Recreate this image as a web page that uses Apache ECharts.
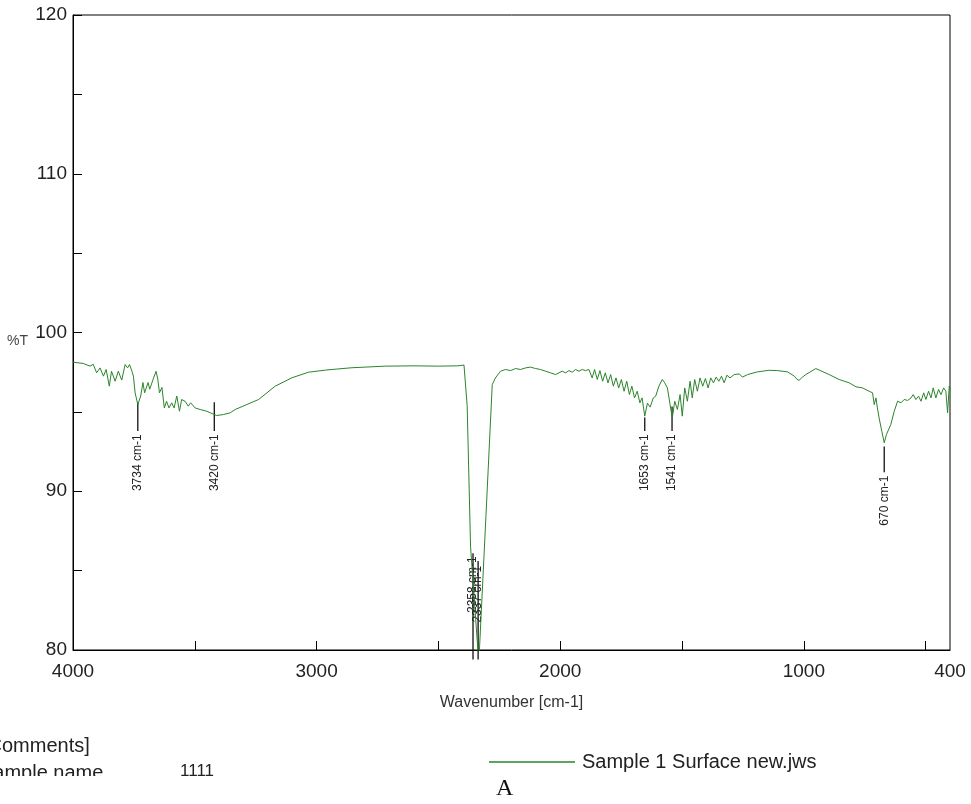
<!DOCTYPE html>
<html>
<head>
<meta charset="utf-8">
<script src="https://cdn.jsdelivr.net/npm/echarts@6/dist/echarts.min.js"></script>
<style>
html, body { margin: 0; padding: 0; background: #fff; }
#main { width: 971px; height: 804px; }
</style>
</head>
<body>
<div id="main"></div>
<script>
// wavenumber [cm-1] and transmittance [%T]
var wn = [4000, 3958, 3930, 3917, 3903, 3889, 3875, 3864, 3851, 3842, 3827, 3814, 3800, 3786, 3776, 3768,
  3758, 3752, 3745, 3734, 3722, 3713, 3706, 3692, 3685, 3671, 3659, 3652, 3645, 3635, 3625, 3616,
  3606, 3595, 3585, 3574, 3563, 3554, 3540, 3527, 3517, 3499, 3478, 3451, 3430, 3410, 3383, 3355,
  3334, 3238, 3170, 3101, 3033, 2964, 2915, 2855, 2718, 2600, 2500, 2420, 2395, 2388, 2382, 2368,
  2350, 2338, 2335, 2331, 2305, 2279, 2266, 2245, 2225, 2204, 2183, 2163, 2142, 2122, 2101, 2081,
  2060, 2040, 2019, 2005, 1992, 1978, 1964, 1951, 1937, 1923, 1910, 1896, 1882, 1869, 1859, 1848,
  1837, 1826, 1815, 1804, 1793, 1782, 1771, 1760, 1749, 1738, 1727, 1716, 1706, 1695, 1684, 1673,
  1664, 1653, 1642, 1631, 1618, 1608, 1595, 1581, 1571, 1560, 1549, 1540, 1530, 1519, 1508, 1499,
  1489, 1478, 1467, 1458, 1448, 1437, 1426, 1415, 1404, 1393, 1382, 1371, 1360, 1349, 1338, 1327,
  1316, 1303, 1286, 1265, 1252, 1231, 1190, 1142, 1108, 1067, 1039, 1030, 1020, 1005, 992, 970,
  951, 945, 896, 855, 814, 786, 759, 732, 718, 711, 704, 698, 691, 680, 670, 661,
  653, 643, 629, 615, 601, 588, 574, 560, 551, 540, 529, 519, 508, 499, 488, 478,
  469, 458, 447, 437, 426, 417, 410, 403, 400];
var tr = [98.13, 98.05, 97.88, 98.0, 97.46, 97.77, 97.25, 97.67, 96.62, 97.56, 96.93, 97.56, 97.0, 97.98, 97.77, 97.98,
  97.56, 97.25, 96.2, 95.46, 96.0, 96.85, 96.2, 96.85, 96.43, 97.06, 97.56, 97.06, 96.2, 96.54, 95.25, 95.67,
  95.25, 95.57, 95.25, 96.0, 95.04, 95.78, 95.67, 95.36, 95.57, 95.25, 95.15, 95.04, 94.9, 94.77, 94.83, 94.94,
  95.15, 95.78, 96.62, 97.15, 97.5, 97.63, 97.7, 97.78, 97.88, 97.9, 97.88, 97.9, 97.95, 97.86, 95.4, 86.5,
  82.6, 80.0, 79.4, 80.2, 88.4, 96.72, 97.14, 97.56, 97.67, 97.6, 97.73, 97.67, 97.77, 97.82, 97.73, 97.67,
  97.56, 97.46, 97.35, 97.46, 97.56, 97.46, 97.6, 97.5, 97.67, 97.56, 97.67, 97.6, 97.67, 97.14, 97.67, 97.04,
  97.6, 96.93, 97.46, 96.83, 97.35, 96.62, 97.14, 96.51, 97.04, 96.3, 96.93, 96.09, 96.62, 95.88, 96.3, 95.57,
  95.88, 94.73, 95.55, 95.3, 95.88, 95.99, 96.62, 97.04, 96.83, 96.51, 95.46, 94.62, 95.67, 95.15, 96.09, 94.73,
  96.51, 95.67, 96.93, 95.88, 97.04, 96.3, 97.14, 96.62, 97.1, 96.51, 97.14, 96.83, 97.19, 96.93, 97.25, 96.83,
  97.31, 97.14, 97.35, 97.39, 97.19, 97.35, 97.52, 97.62, 97.6, 97.52, 97.25, 97.08, 96.98, 97.2, 97.35, 97.55,
  97.73, 97.67, 97.35, 97.04, 96.83, 96.58, 96.51, 96.3, 96.2, 95.46, 95.88, 95.25, 94.62, 93.78, 93.05, 93.57,
  93.47, 94.2, 95.04, 95.67, 95.57, 95.78, 95.72, 95.88, 96.09, 95.78, 95.99, 95.67, 96.2, 95.78, 96.3, 95.88,
  96.51, 95.88, 96.41, 96.09, 96.51, 96.3, 94.94, 96.62, 96.41];

// peak picks: position, marker line top/bottom and where the label's end sits
var peakWn = [3734, 3420, 2358, 2337, 1653, 1541, 670];
var peakTop = [95.6, 95.6, 86.1, 85.6, 94.65, 95.34, 92.82];
var peakBottom = [93.8, 93.8, 79.4, 79.4, 93.8, 93.8, 91.2];
var peakLabelAt = [93.58, 93.58, 85.9, 85.3, 93.58, 93.58, 90.98];
var peakLabels = ['3734 cm-1', '3420 cm-1', '2358 cm-1', '2337 cm-1', '1653 cm-1', '1541 cm-1', '670 cm-1'];

var xTickValues = [500, 1000, 1500, 2000, 2500, 3000, 3500];
var xLabelValues = [4000, 3000, 2000, 1000, 400];

var spectrum = wn.map(function (w, i) { return [w, tr[i]]; });
var peaks = peakWn.map(function (w, i) { return [w, peakTop[i], peakBottom[i], peakLabelAt[i], i]; });

var myChart = echarts.init(document.getElementById('main'));

var option = {
  backgroundColor: '#fff',
  animation: false,
  textStyle: { fontFamily: 'Liberation Sans' },
  grid: {
    left: 73, top: 15, width: 877, height: 635,
    show: true, borderColor: '#000', borderWidth: 1
  },
  legend: {
    left: 484, top: 747,
    icon: 'rect',
    itemWidth: 86, itemHeight: 1.5,
    textStyle: { fontSize: 20, color: '#222', padding: [0, 0, 0, 2] },
    data: ['Sample 1 Surface new.jws']
  },
  xAxis: {
    type: 'value',
    inverse: true,
    min: 400, max: 4000,
    name: 'Wavenumber [cm-1]',
    nameLocation: 'middle',
    nameGap: 45,
    nameTextStyle: { fontSize: 16, color: '#333' },
    axisLine: { onZero: false, lineStyle: { color: '#000', width: 1 } },
    axisTick: { inside: true, length: 9, customValues: xTickValues, lineStyle: { color: '#000' } },
    axisLabel: {
      customValues: xLabelValues, fontSize: 19, color: '#222', margin: 12,
      formatter: function (v) { return String(v); }
    },
    splitLine: { show: false }
  },
  yAxis: {
    type: 'value',
    min: 80, max: 120, interval: 5,
    axisLine: { show: true, lineStyle: { color: '#000', width: 1 } },
    axisTick: { inside: true, length: 9, lineStyle: { color: '#000' } },
    axisLabel: {
      fontSize: 19, color: '#222', margin: 6,
      formatter: function (v) { return v % 10 === 0 ? v : ''; }
    },
    splitLine: { show: false }
  },
  series: [
    {
      name: 'Sample 1 Surface new.jws',
      type: 'line',
      data: spectrum,
      symbol: 'none',
      lineStyle: { color: '#2b842b', width: 1 },
      itemStyle: { color: '#2b842b' }
    },
    {
      type: 'custom',
      clip: false,
      silent: true,
      data: peaks,
      renderItem: function (params, api) {
        var x = api.value(0);
        var p1 = api.coord([x, api.value(1)]);
        var p2 = api.coord([x, api.value(2)]);
        var pl = api.coord([x, api.value(3)]);
        return {
          type: 'group',
          children: [
            { type: 'line', shape: { x1: p1[0], y1: p1[1], x2: p2[0], y2: p2[1] },
              style: { stroke: '#111', lineWidth: 1.3 } },
            { type: 'text', x: pl[0], y: pl[1], rotation: Math.PI / 2,
              style: { text: peakLabels[api.value(4)], align: 'right', verticalAlign: 'middle',
                font: '12px "Liberation Sans"', fill: '#222' } }
          ]
        };
      }
    }
  ],
  graphic: [
    { type: 'text', left: 7, top: 334, z: 10,
      style: { text: '%T', font: '14px "Liberation Sans"', fill: '#444' } },
    { type: 'text', left: -18, top: 736, z: 10,
      style: { text: '[Comments]', font: '20px "Liberation Sans"', fill: '#222' } },
    { type: 'text', left: -20, top: 763, z: 10,
      style: { text: 'Sample name', font: '20px "Liberation Sans"', fill: '#222' } },
    { type: 'text', left: 180, top: 763, z: 10,
      style: { text: '1111', font: '17px "Liberation Sans"', fill: '#222' } },
    { type: 'rect', shape: { x: 0, y: 776, width: 300, height: 28 }, z: 20,
      style: { fill: '#fff' } },
    { type: 'text', left: 496, top: 777, z: 10,
      style: { text: 'A', font: '24px "Liberation Serif"', fill: '#111' } }
  ]
};

myChart.setOption(option);
</script>
</body>
</html>
